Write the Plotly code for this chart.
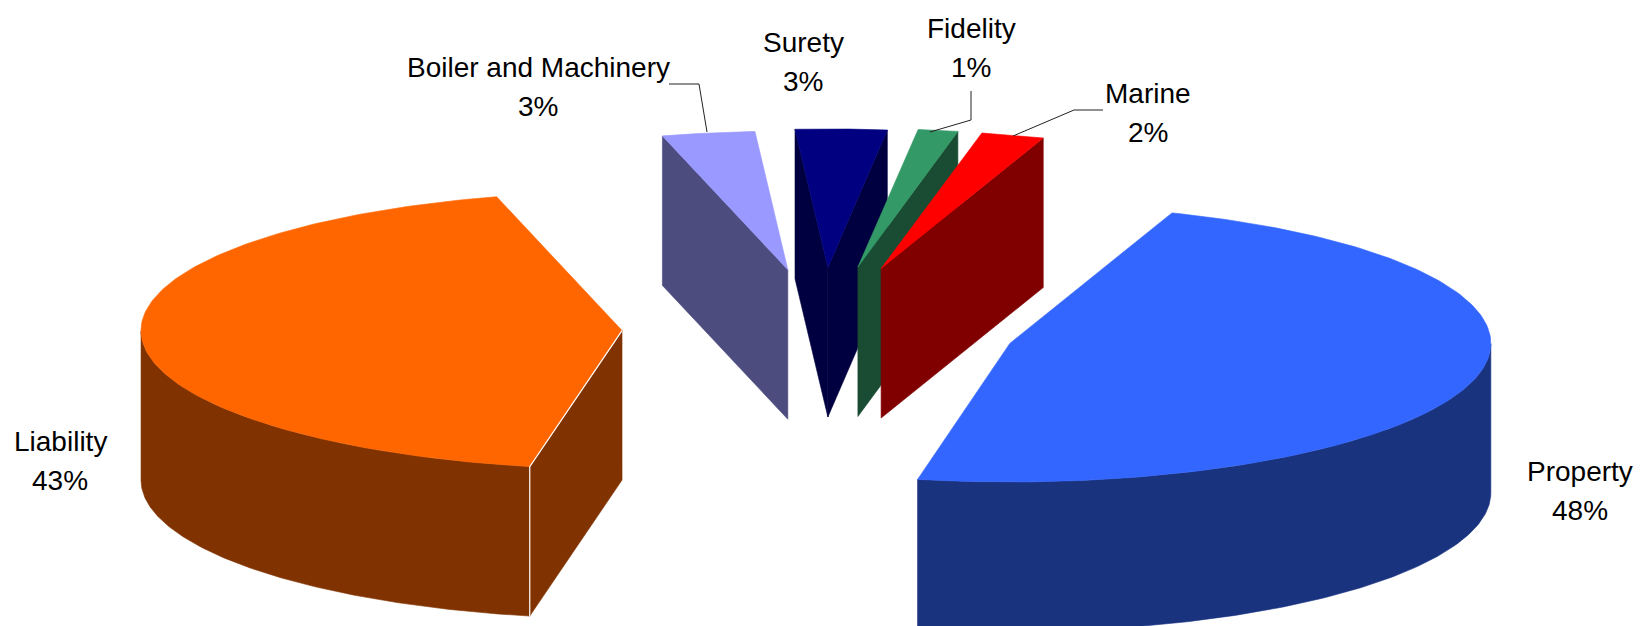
import numpy as np
import plotly.graph_objects as go

# --- data ---
categories = ["Property", "Liability", "Boiler and Machinery", "Surety", "Fidelity", "Marine"]
shares = [47.6, 42.73, 3.11, 3.06, 1.36, 2.14]
explode = [0.405, 0.416, 0.43, 0.44, 0.45, 0.45]
top_colors = ["#3366FF", "#FF6600", "#9999FF", "#000080", "#339966", "#FF0000"]
side_colors = ["#19337F", "#803300", "#4C4C7F", "#000040", "#1A4C33", "#800000"]

# --- layout of the tilted pie (pixels) ---
W, H = 1640, 626
CX, CY = 822.0, 328.5
RX, RY, DEPTH = 481.0, 138.6, 149.5
START_DEG = 70.3

label_pos = {
    "Property": (1580, 491),
    "Liability": (60, 461),
    "Boiler and Machinery": (538, 87),
    "Surety": (803, 62),
    "Fidelity": (971, 48),
    "Marine": (1148, 113),
}
LINE_GAP = 39
leaders = {
    "Boiler and Machinery": [(669, 84), (699, 84), (707, 132)],
    "Fidelity": [(971, 91), (971, 120), (930, 132)],
    "Marine": [(1103, 110), (1074, 110), (1013, 136)],
}
FONT = "Liberation Sans"
FONT_SIZE = 28


def arc(cx, cy, a1, a2, n=160):
    t = np.radians(np.linspace(a1, a2, n))
    return cx + RX * np.cos(t), cy - RY * np.sin(t)


fig = go.Figure()


def poly(xs, ys, color):
    fig.add_trace(go.Scatter(
        x=list(xs), y=list(ys), mode="lines", fill="toself", fillcolor=color,
        line=dict(color=color, width=0.6), hoverinfo="skip", showlegend=False))


a = START_DEG
total = sum(shares)
for name, share, ex, tc, sc in zip(categories, shares, explode, top_colors, side_colors):
    a1, a2 = a, a - 360 * share / total
    a = a2
    mid = np.radians((a1 + a2) / 2)
    cx = CX + ex * RX * np.cos(mid)
    cy = CY - ex * RY * np.sin(mid)

    # radial walls that face the viewer
    for edge, visible in ((a1, np.cos(np.radians(a1)) < 0), (a2, np.cos(np.radians(a2)) > 0)):
        if visible:
            ex_, ey_ = cx + RX * np.cos(np.radians(edge)), cy - RY * np.sin(np.radians(edge))
            poly([cx, ex_, ex_, cx, cx], [cy, ey_, ey_ + DEPTH, cy + DEPTH, cy], sc)

    # outer rim: the part of the arc on the front half
    ts = np.linspace(a1, a2, 400)
    front = ts[np.sin(np.radians(ts)) < 0]
    if front.size:
        xa, ya = arc(cx, cy, front[0], front[-1])
        poly(np.r_[xa, xa[::-1], xa[0]], np.r_[ya, ya[::-1] + DEPTH, ya[0]], sc)

    # top face
    xa, ya = arc(cx, cy, a1, a2)
    poly(np.r_[cx, xa, cx], np.r_[cy, ya, cy], tc)

    # pale seam on the front corner of the big left slice
    if name == "Liability":
        ex_, ey_ = cx + RX * np.cos(np.radians(a1)), cy - RY * np.sin(np.radians(a1))
        fig.add_trace(go.Scatter(x=[ex_, ex_, cx], y=[ey_ + DEPTH, ey_, cy], mode="lines",
                                 line=dict(color="white", width=1.2), hoverinfo="skip", showlegend=False))

for pts in leaders.values():
    fig.add_trace(go.Scatter(x=[p[0] for p in pts], y=[p[1] for p in pts], mode="lines",
                             line=dict(color="#222222", width=1), hoverinfo="skip", showlegend=False))

for name, share in zip(categories, shares):
    x, y = label_pos[name]
    for text, yy in ((name, y - LINE_GAP / 2), (f"{round(share)}%", y + LINE_GAP / 2)):
        fig.add_annotation(x=x, y=yy, text=text, showarrow=False,
                           xanchor="center", yanchor="middle", align="center",
                           font=dict(family=FONT, size=FONT_SIZE, color="black"))

fig.update_layout(
    width=W, height=H, margin=dict(l=0, r=0, t=0, b=0),
    paper_bgcolor="white", plot_bgcolor="white", showlegend=False,
    xaxis=dict(range=[0, W], visible=False, fixedrange=True),
    yaxis=dict(range=[H, 0], visible=False, fixedrange=True),
)
fig.write_html("out.html", config={"displayModeBar": False},
               post_script="document.body.style.margin='0';document.body.style.overflow='hidden';")
